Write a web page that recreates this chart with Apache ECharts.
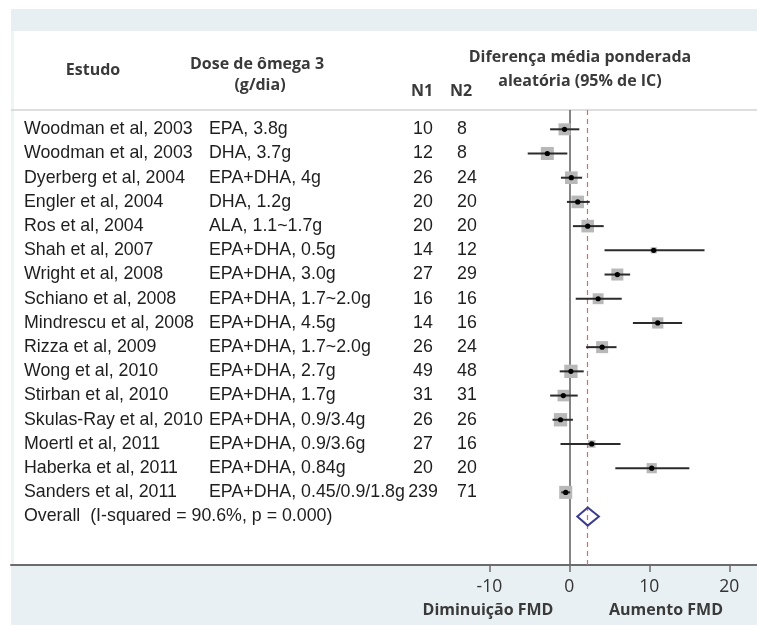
<!DOCTYPE html>
<html><head><meta charset="utf-8">
<script src="https://cdn.jsdelivr.net/npm/echarts@6/dist/echarts.min.js"></script>
<style>html,body{margin:0;padding:0;background:#fff}#c{width:757px;height:625px}</style>
</head><body><div id="c"></div>
<script>
const studies = ["Woodman et al, 2003","Woodman et al, 2003","Dyerberg et al, 2004","Engler et al, 2004","Ros et al, 2004","Shah et al, 2007","Wright et al, 2008","Schiano et al, 2008","Mindrescu et al, 2008","Rizza et al, 2009","Wong et al, 2010","Stirban et al, 2010","Skulas-Ray et al, 2010","Moertl et al, 2011","Haberka et al, 2011","Sanders et al, 2011"];
const doses = ["EPA, 3.8g","DHA, 3.7g","EPA+DHA, 4g","DHA, 1.2g","ALA, 1.1~1.7g","EPA+DHA, 0.5g","EPA+DHA, 3.0g","EPA+DHA, 1.7~2.0g","EPA+DHA, 4.5g","EPA+DHA, 1.7~2.0g","EPA+DHA, 2.7g","EPA+DHA, 1.7g","EPA+DHA, 0.9/3.4g","EPA+DHA, 0.9/3.6g","EPA+DHA, 0.84g","EPA+DHA, 0.45/0.9/1.8g"];
const n1 = [10,12,26,20,20,14,27,16,14,26,49,31,26,27,20,239];
const n2 = [8,8,24,20,20,12,29,16,16,24,48,31,26,16,20,71];
const estimates = [-0.6,-2.75,0.25,1.05,2.3,10.55,6.0,3.6,11.05,4.1,0.2,-0.75,-1.1,2.8,10.3,-0.45];
const ciLow  = [-2.4,-5.2,-1.05,-0.3,0.45,4.4,4.4,0.8,7.95,2.1,-1.2,-2.4,-2.1,-1.1,5.75,-1.0];
const ciHigh = [1.25,-0.25,1.6,2.55,4.3,16.9,7.6,6.55,14.1,5.9,1.8,1.05,0.45,6.4,15.0,0.1];
const weights = [6.8,8.0,7.5,7.5,7.5,1.8,6.8,5.6,6.0,6.8,8.4,6.3,8.4,2.6,4.9,8.0];
const overallLabel = "Overall  (I-squared = 90.6%, p = 0.000)";
const overallEst = 2.3, overallLow = 1.0, overallHigh = 3.7;
const xTicks = [-10, 0, 10, 20];
const headStudy = "Estudo";
const headDose = ["Dose de ômega 3", "(g/dia)"];
const headN = ["N1", "N2"];
const headEffect = ["Diferença média ponderada", "aleatória (95% de IC)"];
const axisNames = ["Diminuição FMD", "Aumento FMD"];

const chart = echarts.init(document.getElementById('c'), null, {renderer: 'canvas'});
const rowFont = '17.8px "Liberation Sans", Arial, sans-serif';
const headFont = 'bold 16px "Open Sans", sans-serif';
const headColor = '#3a3a3a';

const forestData = estimates.map((e, i) => [i, e, ciLow[i], ciHigh[i], weights[i]]);
const tableData = studies.map((s, i) => [0, i]);

chart.setOption({
  animation: false,
  grid: {left: 11, right: 0, top: 110, bottom: 60, containLabel: false},
  xAxis: {
    type: 'value', min: -69.79, max: 23.46, position: 'bottom',
    splitLine: {show: false},
    axisLine: {show: true, onZero: false, lineStyle: {color: '#6b6b6b', width: 2}},
    axisTick: {show: true, customValues: xTicks, length: 7, lineStyle: {color: '#6b6b6b', width: 1.5}},
    axisLabel: {show: true, customValues: xTicks, margin: 13, color: '#333', fontSize: 17.5, fontFamily: '"Open Sans", sans-serif'}
  },
  yAxis: {type: 'value', inverse: true, min: -0.7975, max: 18, show: false},
  graphic: {elements: [
    {type: 'rect', shape: {x: 11, y: 9, width: 746, height: 22}, style: {fill: '#e8eff2'}, z: -10, silent: true},
    {type: 'rect', shape: {x: 11, y: 565, width: 746, height: 60}, style: {fill: '#e8f0f3'}, z: -10, silent: true},
    {type: 'rect', shape: {x: 11, y: 31, width: 3, height: 534}, style: {fill: '#eef5f5'}, z: -10, silent: true},
    {type: 'line', shape: {x1: 11, y1: 110, x2: 757, y2: 110}, style: {stroke: '#d3d3d3', lineWidth: 1.5}, silent: true},
    {type: 'text', x: 93, y: 70, style: {text: headStudy, font: headFont, fill: headColor, align: 'center', verticalAlign: 'middle'}},
    {type: 'text', x: 257, y: 64, style: {text: headDose[0], font: headFont, fill: headColor, align: 'center', verticalAlign: 'middle'}},
    {type: 'text', x: 260, y: 85, style: {text: headDose[1], font: headFont, fill: headColor, align: 'center', verticalAlign: 'middle'}},
    {type: 'text', x: 422, y: 91, style: {text: headN[0], font: headFont, fill: headColor, align: 'center', verticalAlign: 'middle'}},
    {type: 'text', x: 461, y: 91, style: {text: headN[1], font: headFont, fill: headColor, align: 'center', verticalAlign: 'middle'}},
    {type: 'text', x: 580, y: 57, style: {text: headEffect[0], font: headFont, fill: headColor, align: 'center', verticalAlign: 'middle'}},
    {type: 'text', x: 580, y: 81, style: {text: headEffect[1], font: headFont, fill: headColor, align: 'center', verticalAlign: 'middle'}},
    {type: 'text', x: 488, y: 610, style: {text: axisNames[0], font: headFont, fill: headColor, align: 'center', verticalAlign: 'middle'}},
    {type: 'text', x: 666, y: 610, style: {text: axisNames[1], font: headFont, fill: headColor, align: 'center', verticalAlign: 'middle'}}
  ]},
  series: [
    {
      type: 'custom', name: 'table', silent: true, data: tableData,
      encode: {x: 0, y: 1},
      renderItem: function (params, api) {
        const i = params.dataIndex;
        const y = api.coord([0, api.value(1)])[1];
        const st = (t, x, align) => ({type: 'text', x: x, y: y, style: {text: String(t), font: rowFont, fill: '#1e1e1e', align: align, verticalAlign: 'middle'}});
        return {type: 'group', children: [
          st(studies[i], 24, 'left'), st(doses[i], 209, 'left'), st(n1[i], 423, 'center'), st(n2[i], 457, 'left')
        ]};
      }
    },
    {
      type: 'custom', name: 'forest', silent: true, data: forestData,
      encode: {x: [1, 2, 3], y: 0},
      renderItem: function (params, api) {
        const y = api.value(0);
        const pE = api.coord([api.value(1), y]);
        const pL = api.coord([api.value(2), y]);
        const pH = api.coord([api.value(3), y]);
        const s = 4.6 * Math.sqrt(api.value(4));
        return {type: 'group', children: [
          {type: 'rect', shape: {x: pE[0] - s / 2, y: pE[1] - s / 2, width: s, height: s}, style: {fill: '#b8b8b8'}},
          {type: 'line', shape: {x1: pL[0], y1: pL[1], x2: pH[0], y2: pH[1]}, style: {stroke: '#2b2b2b', lineWidth: 2}},
          {type: 'circle', shape: {cx: pE[0], cy: pE[1], r: 2.6}, style: {fill: '#000'}}
        ]};
      },
      markLine: {
        silent: true, symbol: 'none', label: {show: false}, z: 1,
        data: [
          {xAxis: 0, lineStyle: {color: '#666', width: 1.6, type: 'solid'}},
          {xAxis: overallEst, lineStyle: {color: '#cc6f6f', width: 1.2, type: [5, 4]}}
        ]
      }
    },
    {
      type: 'custom', name: 'overall', silent: true, data: [[studies.length, overallEst, overallLow, overallHigh]],
      encode: {x: [1, 2, 3], y: 0},
      renderItem: function (params, api) {
        const y = api.value(0);
        const pE = api.coord([api.value(1), y]);
        const pL = api.coord([api.value(2), y]);
        const pH = api.coord([api.value(3), y]);
        return {type: 'group', children: [
          {type: 'text', x: 24, y: pE[1], style: {text: overallLabel, font: rowFont, fill: '#1e1e1e', align: 'left', verticalAlign: 'middle'}},
          {type: 'polygon', shape: {points: [[pL[0], pL[1]], [pE[0], pE[1] - 9], [pH[0], pH[1]], [pE[0], pE[1] + 9]]},
           style: {fill: 'none', stroke: '#3c3c8c', lineWidth: 2}}
        ]};
      }
    }
  ]
});
</script></body></html>
